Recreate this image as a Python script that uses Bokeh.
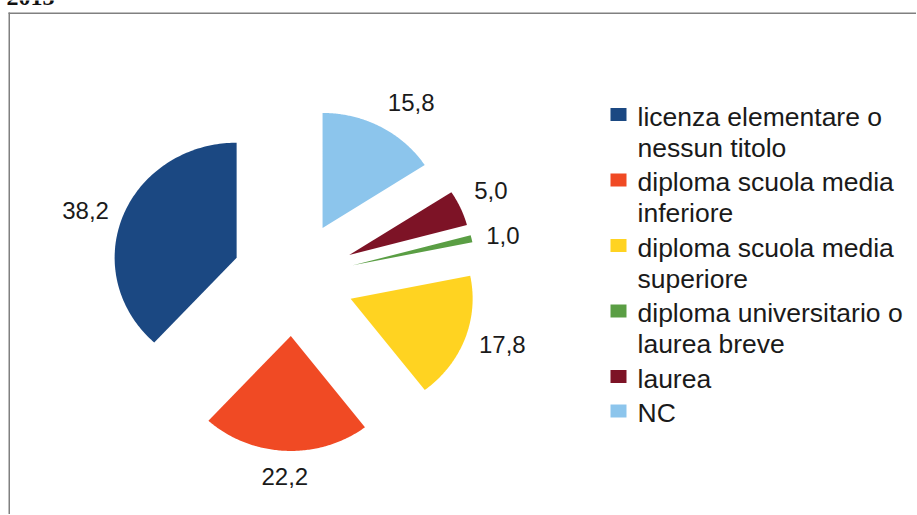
import numpy as np
from bokeh.plotting import figure
from bokeh.models import Range1d
from bokeh.core.properties import value
from bokeh.embed import file_html
from bokeh.resources import INLINE

# ---------------- data ----------------
title = "2013"
categories = [
    "licenza elementare o nessun titolo",
    "diploma scuola media inferiore",
    "diploma scuola media superiore",
    "diploma universitario o laurea breve",
    "laurea",
    "NC",
]
legend_lines = [
    ["licenza elementare o", "nessun titolo"],
    ["diploma scuola media", "inferiore"],
    ["diploma scuola media", "superiore"],
    ["diploma universitario o", "laurea breve"],
    ["laurea"],
    ["NC"],
]
values = [38.2, 22.2, 17.8, 1.0, 5.0, 15.8]
colors = ["#1B4882", "#F04A24", "#FFD321", "#5A9E44", "#7D1326", "#8CC5EC"]

# ---------------- layout constants ----------------
W, H = 916, 514
CX, CY, RX, RY = 293, 278, 122, 115
EXPLODE = 0.5
LABEL_GAP = 15
LABEL_HH = 11
FS_LABEL = 24
FS_LEGEND = 26.5
TEXT_COLOR = "#1a1a1a"
FONT = "Liberation Sans"
BASE_FIX = -9  # renderer places alphabetic baselines lower than requested

p = figure(width=W, height=H, x_range=Range1d(0, W), y_range=Range1d(H, 0),
           output_backend="svg", toolbar_location=None, min_border=0,
           x_axis_type=None, y_axis_type=None)
p.grid.visible = False
p.outline_line_color = None
p.background_fill_color = "white"
p.border_fill_color = "white"

# frame lines
p.segment(x0=[8.75, 8], y0=[12, 12.75], x1=[8.75, 930], y1=[600, 12.75],
          line_color="#808080", line_width=1.5)

# title (cut off at top, as in the reference)
p.text(x=[6], y=[6 + BASE_FIX], text=[title], text_font=value("Liberation Serif"),
       text_font_style="bold", text_font_size="24px", text_color="#111111",
       text_baseline="alphabetic", text_align="left")


def label_side(deg):
    """Horizontal / vertical placement of an outside label (sector rule)."""
    d = deg % 360
    if d <= 22.5 or d > 337.5:
        return 1, 0
    if d < 67.5:
        return 1, -1
    if d < 112.5:
        return 0, -1
    if d <= 157.5:
        return -1, -1
    if d <= 202.5:
        return -1, 0
    if d < 247.5:
        return -1, 1
    if d < 292.5:
        return 0, 1
    return 1, 1


# ---------------- pie ----------------
total = float(sum(values))
xs, ys, lx, ly, ltxt = [], [], [], [], []
cum = 0.0
for v in values:
    a0 = np.deg2rad(90 + 360 * cum / total)
    a1 = np.deg2rad(90 + 360 * (cum + v) / total)
    cum += v
    mid = (a0 + a1) / 2
    ox = CX + EXPLODE * RX * np.cos(mid)
    oy = CY - EXPLODE * RY * np.sin(mid)
    t = np.linspace(a0, a1, 120)
    xs.append([ox] + list(ox + RX * np.cos(t)))
    ys.append([oy] + list(oy - RY * np.sin(t)))
    s = f"{v:.1f}".replace(".", ",")
    hw = FS_LABEL * (0.556 * sum(c.isdigit() for c in s) + 0.278 * s.count(",")) / 2
    px = ox + RX * np.cos(mid) + LABEL_GAP * np.cos(mid)
    py = oy - RY * np.sin(mid) - LABEL_GAP * np.sin(mid)
    sx, sy = label_side(np.rad2deg(mid))
    lx.append(px + sx * hw)
    ly.append(py + sy * LABEL_HH)
    ltxt.append(s)

p.patches(xs=xs, ys=ys, fill_color=colors, line_color=None)
p.text(x=lx, y=ly, text=ltxt, text_font=value(FONT), text_font_size=f"{FS_LABEL}px",
       text_color=TEXT_COLOR, text_align="center", text_baseline="middle")

# ---------------- legend ----------------
LEG_X_BOX, LEG_X_TXT, LEG_Y0 = 618, 637, 125
LINE_H, GAP = 31, 3.5
bx, by, tx, ty, tt = [], [], [], [], []
y = LEG_Y0
for i, lines in enumerate(legend_lines):
    bx.append(LEG_X_BOX)
    by.append(y - 11)
    for j, line in enumerate(lines):
        tx.append(LEG_X_TXT)
        ty.append(y + j * LINE_H + BASE_FIX)
        tt.append(line)
    y += len(lines) * LINE_H + GAP

p.rect(x=bx, y=by, width=16, height=13, fill_color=colors, line_color=None)
p.text(x=tx, y=ty, text=tt, text_font=value(FONT), text_font_size=f"{FS_LEGEND}px",
       text_color=TEXT_COLOR, text_align="left", text_baseline="alphabetic")

open("out.html", "w").write(file_html(p, INLINE))
